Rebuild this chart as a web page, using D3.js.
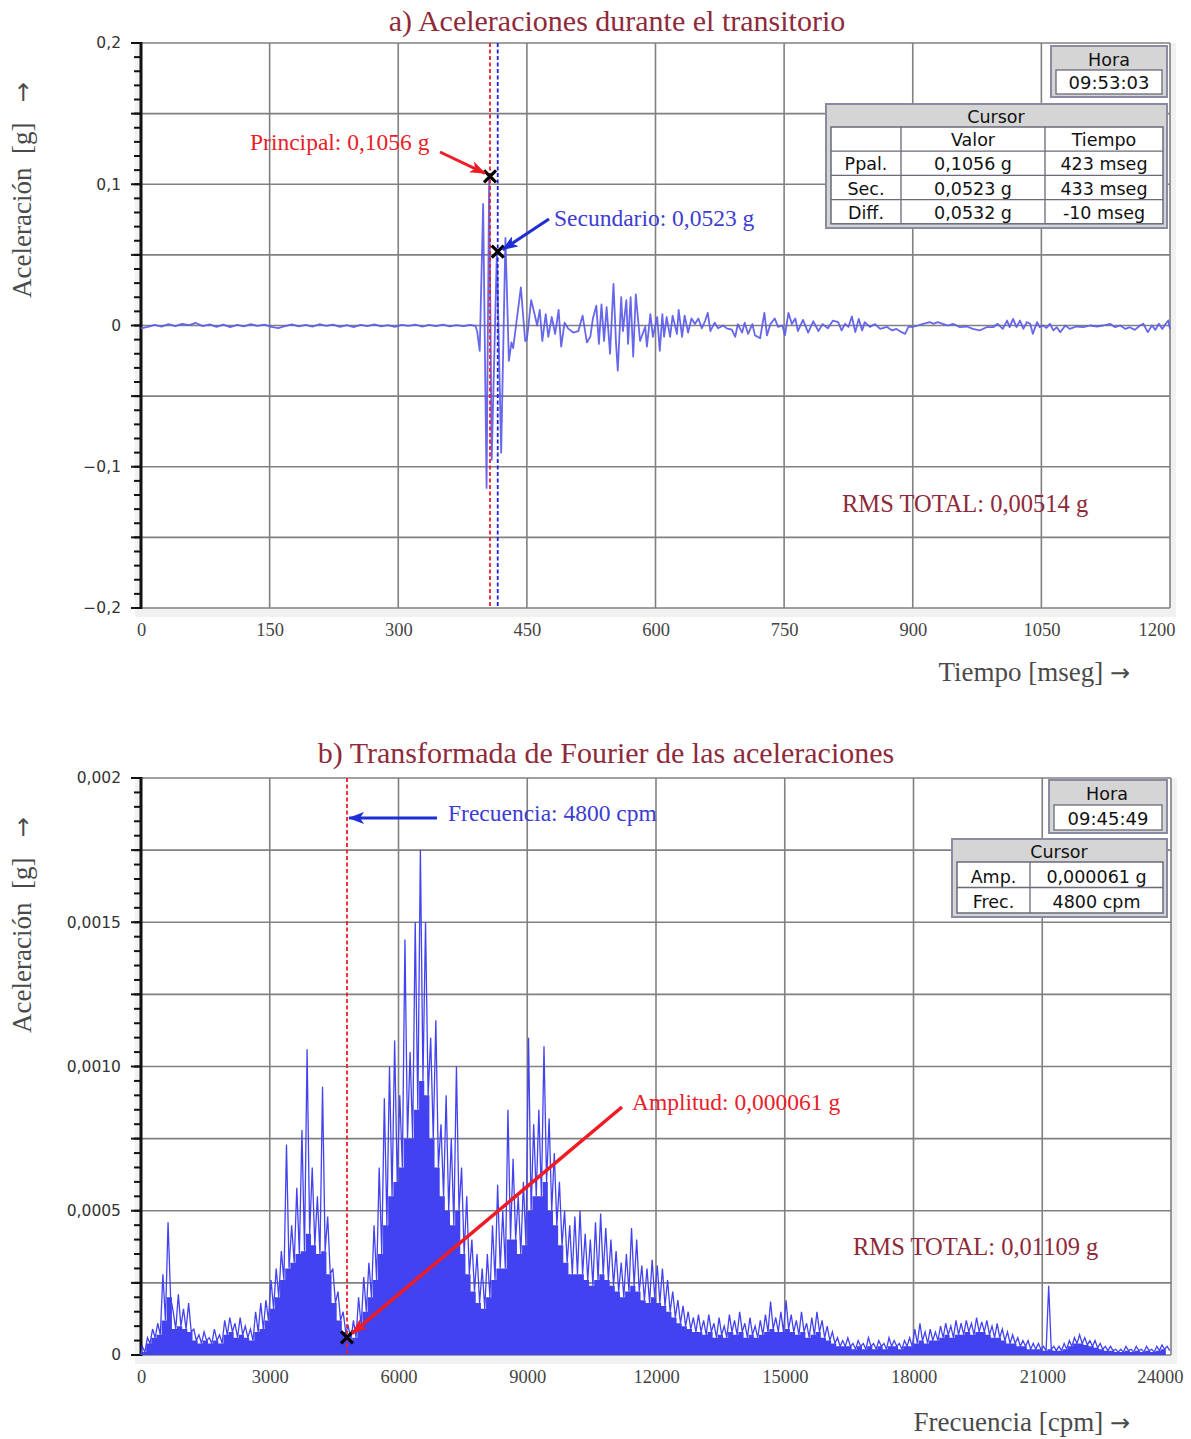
<!DOCTYPE html>
<html>
<head>
<meta charset="utf-8">
<script src="https://cdn.jsdelivr.net/npm/d3@7"></script>
<style>
body{margin:0;background:#fff;}
.serif{font-family:"Liberation Serif","DejaVu Serif",serif;}
.sans{font-family:"DejaVu Sans","Liberation Sans",sans-serif;}
</style>
</head>
<body>
<script>
// ---- a) aceleraciones (tiempo en mseg, aceleracion en g) ----
var tiempoA = [
 0,8,16,24,32,40,48,56,64,72,
 80,88,96,104,112,120,128,136,144,152,
 160,168,176,184,192,200,208,216,224,232,
 240,248,256,264,272,280,288,296,304,312,
 320,328,336,344,352,360,368,376,384,390,
 392,395,399,403,406,409,415,420,425,429,
 432,434,443,448,450,455,459,462,465,468,
 472,475,479,483,487,490,494,498,504,510,
 515,520,524,527,531,534,537,540,543,547,
 551,554,556,560,562,566,568,571,574,577,
 582,588,590,594,597,602,605,608,610,613,
 617,620,625,627,631,634,638,642,646,650,
 654,658,661,664,669,673,679,683,689,693,
 696,701,704,708,713,716,722,727,730,734,
 739,743,748,751,755,759,763,766,772,778,
 784,790,795,801,807,813,817,821,825,829,
 833,837,841,844,850,856,862,870,876,881,
 887,891,895,900,906,912,920,924,929,935,
 941,947,955,963,970,978,986,994,999,1005,
 1010,1013,1017,1021,1025,1029,1033,1037,1040,1045,
 1048,1052,1056,1060,1064,1068,1072,1078,1083,1091,
 1099,1107,1115,1122,1130,1136,1142,1148,1153,1159,
 1165,1169,1174,1179,1183,1187,1191,1195,1198,1200];
var acelA = [
 -0.002,-0.001,0.0005,-0.0008,0.001,-0.0005,0.0012,0.0002,0.0018,-0.0004,
 0.0008,-0.001,0.0006,-0.0012,0.0004,-0.0006,0.001,-0.0003,0.0006,-0.001,
 -0.0018,-0.0004,0.0008,-0.0006,0.0004,-0.0008,0.0009,-0.0002,0.0006,-0.0009,
 0.0003,-0.0011,0.0005,-0.0004,0.0008,-0.0006,0.0002,-0.0009,0.0005,-0.0003,
 0.0007,-0.0008,0.0004,-0.0005,0.0006,-0.0007,0.0003,-0.0004,0.0005,-0.0002,
 -0.004,-0.018,0.086,-0.115,0.1056,-0.095,0.0523,-0.09,0.062,-0.025,
 -0.012,-0.016,0.027,-0.011,-0.01,0.018,0.008,0,0.011,-0.011,
 0.008,-0.008,0.006,-0.006,0.011,-0.015,0.002,-0.002,-0.005,-0.004,
 0.007,-0.012,-0.008,0.005,0.014,-0.013,0.015,-0.011,0.013,-0.02,
 0.0295,-0.013,-0.032,0.02,-0.004,0.018,-0.013,0.02,-0.022,0.022,
 -0.011,-0.001,-0.015,0.008,-0.008,0.006,-0.018,0.008,-0.008,0.006,
 -0.008,0.007,-0.006,0.011,-0.008,0.007,-0.005,0.005,0.001,0.005,
 -0.002,0.0035,0.009,-0.004,0.002,-0.002,0,-0.002,-0.003,-0.008,
 0.001,-0.005,0.002,-0.006,0.001,-0.007,-0.009,0.009,-0.007,0.001,
 0.005,-0.001,0,-0.007,0.009,0.001,0.005,-0.004,0.004,-0.005,
 0.003,-0.004,0.001,-0.002,0.0035,0.0024,-0.0035,0.0012,-0.001,0.0064,
 -0.0047,0.0047,-0.0035,0.0024,-0.001,0.001,-0.0024,-0.001,-0.0035,-0.0024,
 -0.0047,-0.0059,-0.001,-0.001,0,0.0012,0.0024,0.0012,0.0024,0.0012,
 0,0.0012,-0.0012,-0.0007,-0.0024,-0.0035,-0.0012,-0.0012,0.0012,-0.0024,
 0.0035,-0.0012,0.0047,-0.0012,0.0035,-0.0024,0.0024,0.0012,-0.0059,0.0024,
 -0.0012,0,-0.0017,0.0012,-0.0035,-0.0012,-0.0047,0,-0.0024,-0.0007,
 -0.0012,0,-0.0007,0,0.0012,-0.0012,0,-0.0024,-0.0012,-0.0031,
 0,0.0012,-0.0047,0,-0.0031,0.0012,-0.0024,0.0012,0.0035,-0.0024];

var ticksTiempo = [0,150,300,450,600,750,900,1050,1200];
var ticksAcelA = [-0.2,-0.1,0,0.1,0.2];
var etiquetasAcelA = ["\u22120,2","\u22120,1","0","0,1","0,2"];
var cursorPpal = {t: 407, v: 0.1056};
var cursorSec = {t: 416, v: 0.0523};
var filasCursorA = [["","Valor","Tiempo"],["Ppal.","0,1056 g","423 mseg"],["Sec.","0,0523 g","433 mseg"],["Diff.","0,0532 g","-10 mseg"]];

// ---- b) espectro (frecuencia en cpm, amplitud en 1e-4 g por bloque de 120 cpm) ----
var pasoFrec = 120;
var escalaAmp = 1e-4;
var picosB = [
 0.3,0.6,0.9,1.1,2.8,4.6,1.5,2.1,1.6,1.8,
 0.9,0.7,0.8,0.6,0.9,0.7,1.2,1.3,1.1,1.3,
 1.0,0.9,1.5,1.8,1.9,2.6,3.0,3.6,7.3,4.5,
 5.8,7.8,10.6,6.5,5.5,9.3,4.8,3.0,2.2,1.5,
 1.0,1.2,2.0,2.7,3.2,4.5,6.5,8.9,10.0,10.9,
 9.0,14.4,10.5,15.0,17.5,15.0,11.0,11.6,8.0,9.0,
 7.5,10.0,6.5,5.5,4.0,3.5,3.0,3.5,4.5,5.9,
 5.0,8.5,6.8,5.5,6.0,11.0,8.0,8.5,10.7,8.2,
 7.0,6.0,5.0,4.5,4.8,5.0,4.2,4.0,4.6,4.9,
 4.4,4.0,3.6,3.2,3.5,4.4,4.0,3.1,3.0,3.3,
 3.1,3.0,2.6,2.2,1.9,1.7,1.5,1.3,1.4,1.2,
 1.4,1.1,1.3,1.0,1.4,1.2,1.5,1.1,1.3,1.0,
 1.2,1.4,1.85,1.3,1.5,1.9,1.4,1.2,1.5,1.1,
 1.3,1.5,1.2,1.0,0.8,0.6,0.5,0.6,0.4,0.5,
 0.4,0.6,0.4,0.5,0.4,0.6,0.5,0.4,0.5,0.6,
 0.9,1.1,0.8,0.9,0.8,1.0,1.1,1.0,1.2,1.1,
 1.2,1.1,1.3,1.15,1.2,1.0,1.1,0.9,0.8,0.7,
 0.6,0.5,0.5,0.4,0.4,0.3,2.4,0.3,0.3,0.4,
 0.5,0.6,0.7,0.6,0.5,0.5,0.4,0.3,0.3,0.2,
 0.2,0.3,0.2,0.3,0.2,0.3,0.2,0.3,0.35,0.3];
var vallesB = [
 0.1,0.4,0.6,0.7,1.2,2.0,0.9,1.0,0.9,0.8,
 0.5,0.4,0.5,0.4,0.5,0.4,0.7,0.8,0.6,0.7,
 0.6,0.5,0.8,0.9,1.2,1.6,2.0,2.6,3.0,3.2,
 3.5,3.6,4.2,3.8,3.5,3.6,2.8,1.8,1.2,0.8,
 0.5,0.6,1.0,1.5,2.0,2.6,3.5,4.5,5.5,6.0,
 6.5,7.5,7.5,8.5,9.5,9.0,7.5,6.5,5.5,5.0,
 4.5,5.0,3.5,2.8,2.2,1.8,1.6,2.0,2.6,3.0,
 3.0,4.0,4.0,3.5,3.8,5.0,5.5,5.5,6.0,5.0,
 4.5,3.8,3.2,2.8,2.8,2.8,2.6,2.4,2.6,2.8,
 2.6,2.4,2.2,2.0,2.2,2.4,2.2,1.9,1.8,2.0,
 1.8,1.7,1.5,1.3,1.1,1.0,0.9,0.8,0.8,0.7,
 0.8,0.6,0.7,0.6,0.8,0.7,0.8,0.6,0.7,0.6,
 0.7,0.8,0.9,0.8,0.8,0.9,0.8,0.7,0.8,0.6,
 0.7,0.8,0.6,0.5,0.4,0.3,0.3,0.3,0.2,0.3,
 0.2,0.3,0.2,0.3,0.2,0.3,0.3,0.2,0.3,0.3,
 0.4,0.5,0.4,0.5,0.5,0.6,0.7,0.6,0.7,0.7,
 0.8,0.7,0.8,0.8,0.7,0.6,0.6,0.5,0.4,0.4,
 0.3,0.3,0.2,0.2,0.2,0.15,0.2,0.15,0.15,0.2,
 0.3,0.4,0.4,0.35,0.3,0.25,0.2,0.15,0.15,0.1,
 0.1,0.15,0.1,0.15,0.1,0.15,0.1,0.15,0.2,0.15];

var ticksFrec = [0,3000,6000,9000,12000,15000,18000,21000,24000];
var ticksAcelB = [0,0.0005,0.001,0.0015,0.002];
var etiquetasAcelB = ["0","0,0005","0,0010","0,0015","0,002"];
var cursorFrec = {f: 4800, a: 0.000061};
var filasCursorB = [["Amp.","0,000061 g"],["Frec.","4800 cpm"]];

var svg = d3.select("body").append("svg")
    .attr("width", 1191)
    .attr("height", 1439);

var defs = svg.append("defs");
function punta(id, color) {
    defs.append("marker")
        .attr("id", id)
        .attr("markerUnits", "userSpaceOnUse")
        .attr("viewBox", "0 0 16 12")
        .attr("refX", 15).attr("refY", 6)
        .attr("markerWidth", 16).attr("markerHeight", 12)
        .attr("orient", "auto")
        .append("path").attr("d", "M0,0 L16,6 L0,12 L4,6 Z").attr("fill", color);
}
punta("flechaRoja", "#ee1c24");
punta("flechaAzul", "#1f2fd6");

var colGrid = "#808080";

// ejes, rejilla y marco de un grafico
function marco(x, y, xTicks, xEtiq, yTicks, yEtiq, yGrid, yMenor, dxUltima) {
    var x0 = x.range()[0], x1 = x.range()[1];
    var yb = y.range()[0], yt = y.range()[1];
    var g = svg.append("g");
    g.append("rect").attr("x", x0 - 6).attr("y", yt).attr("width", x1 - x0 + 12).attr("height", yb - yt + 9)
        .attr("fill", "#f1f1f1");
    g.append("rect").attr("x", x0).attr("y", yt).attr("width", x1 - x0).attr("height", yb - yt)
        .attr("fill", "#fff");
    g.selectAll("line.gv").data(xTicks.slice(1)).enter().append("line")
        .attr("x1", x).attr("x2", x).attr("y1", yt).attr("y2", yb)
        .attr("stroke", colGrid).attr("stroke-width", 1.6);
    g.selectAll("line.gh").data(yGrid).enter().append("line")
        .attr("x1", x0).attr("x2", x1).attr("y1", y).attr("y2", y)
        .attr("stroke", colGrid).attr("stroke-width", 1.6);
    g.selectAll("line.tm").data(yMenor).enter().append("line")
        .attr("x1", x0 - 7).attr("x2", x0).attr("y1", y).attr("y2", y)
        .attr("stroke", "#111").attr("stroke-width", 2);
    g.selectAll("line.tM").data(yGrid).enter().append("line")
        .attr("x1", x0 - 10).attr("x2", x0).attr("y1", y).attr("y2", y)
        .attr("stroke", "#111").attr("stroke-width", 2);
    g.append("line").attr("x1", x0).attr("x2", x0).attr("y1", yt - 1).attr("y2", yb + 1)
        .attr("stroke", "#111").attr("stroke-width", 3);

    var ax = g.append("g").attr("transform", "translate(0," + yb + ")")
        .call(d3.axisBottom(x).tickValues(xTicks).tickSize(0).tickPadding(15)
            .tickFormat(function (d, i) { return xEtiq[i]; }));
    ax.select(".domain").remove();
    ax.selectAll("text").attr("class", "serif").style("font-size", "18.5px").attr("fill", "#444");
    ax.selectAll(".tick:last-of-type text").attr("text-anchor", "end").attr("dx", dxUltima);

    var ay = g.append("g").attr("transform", "translate(" + (x0 - 20) + ",0)")
        .call(d3.axisLeft(y).tickValues(yTicks).tickSize(0).tickPadding(0)
            .tickFormat(function (d, i) { return yEtiq[i]; }));
    ay.select(".domain").remove();
    ay.selectAll("text").attr("class", "sans").style("font-size", "15.5px").attr("fill", "#333");
    return g;
}

function textoEje(xp, yp, txt, rot) {
    var t = svg.append("text").attr("class", "serif")
        .attr("transform", "translate(" + xp + "," + yp + ")" + (rot ? " rotate(-90)" : ""))
        .attr("text-anchor", rot ? "start" : "end")
        .style("font-size", "27px").style("white-space", "pre").attr("fill", "#4a4a4a");
    t.append("tspan").text(txt);
    t.append("tspan").style("font-family", "DejaVu Sans").style("font-size", "24px").text("\u2192");
}

function cruz(px, py) {
    var s = 6;
    svg.append("path")
        .attr("d", "M" + (px - s) + "," + (py - s) + "L" + (px + s) + "," + (py + s) +
            "M" + (px - s) + "," + (py + s) + "L" + (px + s) + "," + (py - s))
        .attr("stroke", "#000").attr("stroke-width", 3.2).attr("fill", "none");
}

function caja(x0, y0, w, h) {
    svg.append("rect").attr("x", x0).attr("y", y0).attr("width", w).attr("height", h)
        .attr("fill", "#d5d5d5").attr("stroke", "#8a8aa2").attr("stroke-width", 2);
}
function texto(xp, yp, txt, size, color, anchor, cls) {
    return svg.append("text").attr("class", cls || "sans").attr("x", xp).attr("y", yp)
        .attr("text-anchor", anchor || "middle").style("font-size", size + "px")
        .attr("fill", color || "#111").text(txt);
}
function tabla(x0, y0, cols, filas, alto) {
    var w = cols[cols.length - 1] - x0;
    svg.append("rect").attr("x", x0).attr("y", y0).attr("width", w).attr("height", alto * filas.length)
        .attr("fill", "#fff").attr("stroke", "#6a6a7a").attr("stroke-width", 1.5);
    filas.forEach(function (f, i) {
        if (i > 0) svg.append("line").attr("x1", x0).attr("x2", x0 + w)
            .attr("y1", y0 + i * alto).attr("y2", y0 + i * alto).attr("stroke", "#6a6a7a").attr("stroke-width", 1.3);
        f.forEach(function (c, j) {
            var xa = j === 0 ? x0 : cols[j - 1];
            texto((xa + cols[j]) / 2, y0 + i * alto + alto - 5, c, 17.5);
        });
    });
    cols.slice(0, -1).forEach(function (c) {
        svg.append("line").attr("x1", c).attr("x2", c).attr("y1", y0).attr("y2", y0 + alto * filas.length)
            .attr("stroke", "#6a6a7a").attr("stroke-width", 1.3);
    });
}

// =================== a) ===================
var xA = d3.scaleLinear().domain([0, 1200]).range([141, 1170]);
var yA = d3.scaleLinear().domain([-0.2, 0.2]).range([608, 43]);
marco(xA, yA, ticksTiempo, ticksTiempo.map(String), ticksAcelA, etiquetasAcelA,
    d3.range(-0.2, 0.2001, 0.05), d3.range(-0.2, 0.2001, 0.01), 5);

texto(617, 31, "a) Aceleraciones durante el transitorio", 30, "#8e2a3a", "middle", "serif");
textoEje(1130, 681, "Tiempo [mseg] ", false);
textoEje(31, 298, "Aceleraci\u00f3n  [g]   ", true);

svg.append("path")
    .datum(d3.zip(tiempoA, acelA))
    .attr("fill", "none").attr("stroke", "#5a5aea").attr("stroke-width", 1.8)
    .attr("stroke-linejoin", "round").attr("opacity", 0.92)
    .attr("d", d3.line().x(function (d) { return xA(d[0]); }).y(function (d) { return yA(d[1]); }));

svg.append("line").attr("x1", xA(cursorPpal.t)).attr("x2", xA(cursorPpal.t)).attr("y1", 43).attr("y2", 608)
    .attr("stroke", "#e8202a").attr("stroke-width", 1.8).attr("stroke-dasharray", "4,2.5");
svg.append("line").attr("x1", xA(cursorSec.t)).attr("x2", xA(cursorSec.t)).attr("y1", 43).attr("y2", 608)
    .attr("stroke", "#1a22e0").attr("stroke-width", 1.8).attr("stroke-dasharray", "4,2.5");
cruz(xA(cursorPpal.t), yA(cursorPpal.v));
cruz(xA(cursorSec.t), yA(cursorSec.v));

texto(250, 150, "Principal: 0,1056 g", 23.5, "#e8202a", "start", "serif");
svg.append("line").attr("x1", 440).attr("y1", 152).attr("x2", xA(cursorPpal.t) - 5).attr("y2", yA(cursorPpal.v) - 3)
    .attr("stroke", "#ee1c24").attr("stroke-width", 3).attr("marker-end", "url(#flechaRoja)");
texto(554, 226, "Secundario: 0,0523 g", 23.5, "#3c3cd2", "start", "serif");
svg.append("line").attr("x1", 549).attr("y1", 219).attr("x2", xA(cursorSec.t) + 5).attr("y2", yA(cursorSec.v) - 2)
    .attr("stroke", "#1f2fd6").attr("stroke-width", 3).attr("marker-end", "url(#flechaAzul)");
texto(842, 512, "RMS TOTAL: 0,00514 g", 24.5, "#8e2a3a", "start", "serif");

caja(1051, 46, 116, 51);
texto(1109, 66, "Hora", 17.5);
svg.append("rect").attr("x", 1056).attr("y", 70).attr("width", 106).attr("height", 24)
    .attr("fill", "#fff").attr("stroke", "#6a6a7a").attr("stroke-width", 1.3);
texto(1109, 89, "09:53:03", 18);
caja(826, 104, 341, 124);
texto(996, 123, "Cursor", 17.5);
tabla(831, 127, [901, 1045, 1163], filasCursorA, 24.2);

// =================== b) ===================
var xB = d3.scaleLinear().domain([0, 24000]).range([141, 1171]);
var yB = d3.scaleLinear().domain([0, 0.002]).range([1355, 778]);
marco(xB, yB, ticksFrec, ticksFrec.map(String), ticksAcelB, etiquetasAcelB,
    d3.range(0, 0.0020001, 0.00025), d3.range(0, 0.0020001, 0.00005), 12);

texto(606, 763, "b) Transformada de Fourier de las aceleraciones", 30, "#8e2a3a", "middle", "serif");
textoEje(1130, 1431, "Frecuencia [cpm] ", false);
textoEje(31, 1033, "Aceleraci\u00f3n  [g]   ", true);

// cuerpo del espectro (valles, en escalones) y trazo zigzag pico/valle
var colEsp = "#4242f0";
svg.append("path")
    .datum(vallesB.map(function (v, i) { return [i * pasoFrec, v * escalaAmp]; }))
    .attr("fill", colEsp)
    .attr("d", d3.area().curve(d3.curveStepAfter)
        .x(function (d) { return xB(d[0]); }).y0(yB(0)).y1(function (d) { return yB(d[1]); }));
var zig = [[0, 0]];
picosB.forEach(function (p, i) {
    zig.push([i * pasoFrec + 30, p * escalaAmp]);
    zig.push([i * pasoFrec + 90, vallesB[i] * escalaAmp]);
});
svg.append("path").datum(zig)
    .attr("fill", "none").attr("stroke", colEsp).attr("stroke-width", 1.3)
    .attr("d", d3.line().x(function (d) { return xB(d[0]); }).y(function (d) { return yB(d[1]); }));

svg.append("line").attr("x1", xB(cursorFrec.f)).attr("x2", xB(cursorFrec.f)).attr("y1", 778).attr("y2", 1355)
    .attr("stroke", "#e8202a").attr("stroke-width", 1.8).attr("stroke-dasharray", "4,2.5");
cruz(xB(cursorFrec.f), yB(cursorFrec.a));

svg.append("line").attr("x1", 437).attr("y1", 818).attr("x2", xB(cursorFrec.f) + 2).attr("y2", 818)
    .attr("stroke", "#1f2fd6").attr("stroke-width", 3).attr("marker-end", "url(#flechaAzul)");
texto(448, 821, "Frecuencia: 4800 cpm", 23.5, "#3c3cd2", "start", "serif");
svg.append("line").attr("x1", 622).attr("y1", 1107).attr("x2", xB(cursorFrec.f) + 5).attr("y2", yB(cursorFrec.a) - 4)
    .attr("stroke", "#ee1c24").attr("stroke-width", 3.5).attr("marker-end", "url(#flechaRoja)");
texto(632, 1110, "Amplitud: 0,000061 g", 23.5, "#e8202a", "start", "serif");
texto(853, 1255, "RMS TOTAL: 0,01109 g", 24.5, "#8e2a3a", "start", "serif");

caja(1049, 780, 118, 53);
texto(1107, 800, "Hora", 17.5);
svg.append("rect").attr("x", 1054).attr("y", 805).attr("width", 108).attr("height", 25)
    .attr("fill", "#fff").attr("stroke", "#6a6a7a").attr("stroke-width", 1.3);
texto(1108, 825, "09:45:49", 18);
caja(952, 839, 215, 78);
texto(1059, 858, "Cursor", 17.5);
tabla(957, 862, [1030, 1163], filasCursorB, 25.5);
</script>
</body>
</html>
